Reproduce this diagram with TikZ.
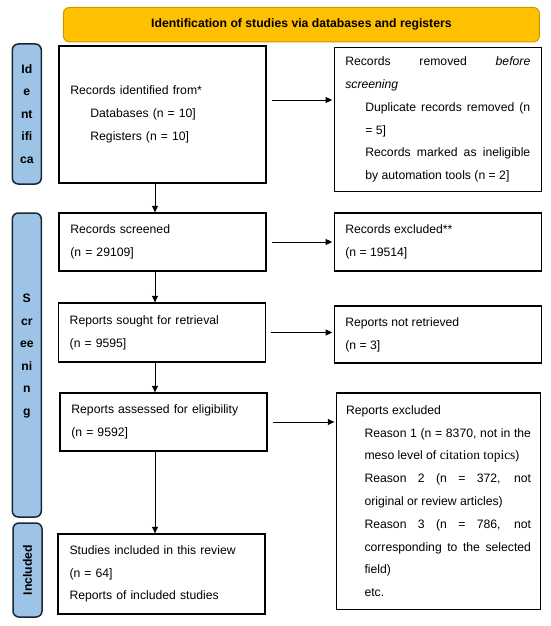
\documentclass[tikz,border=0pt]{standalone}
\usepackage{fontspec}
\setmainfont{Liberation Sans}
\newfontfamily\citefont[Scale=1.1]{Liberation Serif}
\usetikzlibrary{arrows.meta}
\definecolor{barblue}{HTML}{9DC3E6}
\definecolor{baredge}{HTML}{1B2635}
\definecolor{titlegold}{HTML}{FFC000}
\definecolor{titleedge}{HTML}{C99A00}
\tikzstyle{stage box}=[draw, line width=1.3pt, minimum width=207pt, inner sep=0pt, text width=184pt, align=left, font=\fontsize{12.2}{22.8}\selectfont]
\tikzstyle{side box}=[stage box, text width=185pt, align=justify]
\tikzstyle{phase bar}=[draw=baredge, fill=barblue, line width=1.5pt, rounded corners=6pt, minimum width=29pt, inner sep=0pt]
\tikzstyle{phase label}=[font=\bfseries\fontsize{12.2}{22.6}\selectfont, align=center]
\tikzstyle{flow}=[line width=1pt, -{Triangle[length=6.5pt, width=6pt]}]
\tikzstyle{side flow}=[flow, shorten <=5pt, shorten >=1.5pt]
\hyphenpenalty=10000
\exhyphenpenalty=10000

\begin{document}
\begin{tikzpicture}[x=1pt, y=-1pt]
      \useasboundingbox (0, 0) rectangle (550, 626);

      \node[draw=titleedge, fill=titlegold, line width=1pt, rounded corners=6pt, minimum width=476pt, minimum height=34.5pt, font=\bfseries\fontsize{12.2}{14}\selectfont] (title) at (301.4, 24.7) {Identification of studies via databases and registers};

      \node[phase bar, minimum height=140pt] (ident_bar) at (26.8, 114) {};
      \node[phase label] at (ident_bar) {Id\\e\\nt\\ifi\\ca};
      \node[phase bar, minimum height=304pt] (screen_bar) at (26.8, 365) {};
      \node[phase label] at (26.8, 356) {S\\cr\\ee\\ni\\n\\g};
      \node[phase bar, minimum height=94pt] (incl_bar) at (27.5, 570) {};
      \node[phase label, rotate=90] at (incl_bar) {Included};

      \node[stage box, minimum height=137pt] (rec_id) at (162.4, 114.5) {Records identified from*\par
        {\leftskip=20pt Databases (n = 10]\par Registers (n = 10]\par}};
      \node[side box, minimum height=144pt] (rec_removed) at (437.8, 119.5) {Records removed \textit{before}\linebreak \textit{screening}\par
        {\leftskip=20pt Duplicate records removed (n\linebreak = 5]\par
        Records marked as ineligible\linebreak by automation tools (n = 2]\par}};

      \node[stage box, minimum height=58pt] (rec_screened) at (162.4, 242) {Records screened\par (n = 29109]};
      \node[side box, minimum height=58pt] (rec_excluded) at (437.8, 242) {Records excluded**\par (n = 19514]};

      \node[stage box, minimum height=59pt] (rep_sought) at (161.7, 332.5) {Reports sought for retrieval\par (n = 9595]};
      \node[side box, minimum height=57pt] (rep_missing) at (437.8, 334.5) {Reports not retrieved\par (n = 3]};

      \node[stage box, minimum height=58pt] (rep_assessed) at (163.4, 422) {Reports assessed for eligibility\par (n = 9592]};
      \node[side box, minimum width=204pt, minimum height=216.5pt] (rep_excluded) at (438.5, 501.2) {Reports excluded\par
        {\leftskip=18.5pt Reason 1 (n = 8370, not in the\linebreak meso level of {\citefont citation topics})\par
        Reason 2 (n = 372, not\linebreak original or review articles)\par
        Reason 3 (n = 786, not\linebreak corresponding to the selected\linebreak field)\par
        etc.\par}};

      \node[stage box, minimum height=80pt] (studies_in) at (161.5, 574) {Studies included in this review\par (n = 64]\par Reports of included studies};

      \coordinate (spine) at (155, 0);
      \coordinate (first_row) at (0, 100);

      \draw[flow] (rec_id.south -| spine) -- (rec_screened.north -| spine);
      \draw[flow] (rec_screened.south -| spine) -- (rep_sought.north -| spine);
      \draw[flow] (rep_sought.south -| spine) -- (rep_assessed.north -| spine);
      \draw[flow] (rep_assessed.south -| spine) -- (studies_in.north -| spine);

      \draw[side flow] (rec_id.east |- first_row) -- (rec_removed.west |- first_row);
      \draw[side flow] (rec_screened.east) -- (rec_screened.east -| rec_excluded.west);
      \draw[side flow] (rep_sought.east) -- (rep_sought.east -| rep_missing.west);
      \draw[side flow] (rep_assessed.east) -- (rep_assessed.east -| rep_excluded.west);
    \end{tikzpicture}
\end{document}
